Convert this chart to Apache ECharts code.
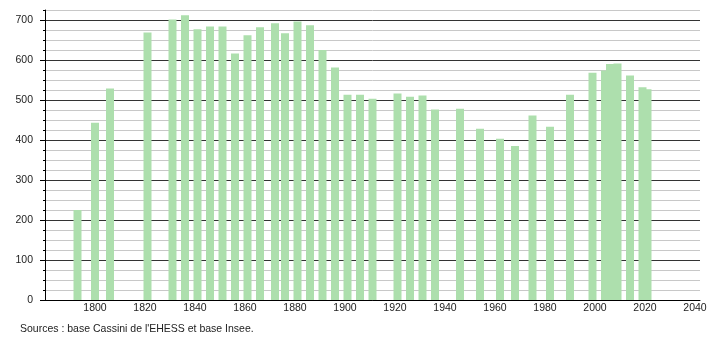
<!DOCTYPE html>
<html>
<head>
<meta charset="utf-8">
<script src="https://cdn.jsdelivr.net/npm/echarts@6/dist/echarts.min.js"></script>
<style>
html,body{margin:0;padding:0;background:#fff;}
#chart{width:710px;height:340px;}
</style>
</head>
<body>
<div id="chart"></div>
<script>
const years = [1793,1800,1806,1821,1831,1836,1841,1846,1851,1856,1861,1866,1872,1876,1881,1886,1891,1896,1901,1906,1911,1921,1926,1931,1936,1946,1954,1962,1968,1975,1982,1990,1999,2004,2006,2009,2014,2019,2021];
const population = [225,443,529,669,701,712,677,684,684,616,662,682,692,667,696,687,625,581,513,513,503,516,508,511,476,478,428,403,385,461,433,513,568,574,590,591,561,532,527];
const yTickLabels = [0,100,200,300,400,500,600,700];
const xTickLabels = [1800,1820,1840,1860,1880,1900,1920,1940,1960,1980,2000,2020,2040];
const sourceText = "Sources : base Cassini de l'EHESS et base Insee.";

const chart = echarts.init(document.getElementById('chart'), null, {renderer: 'canvas'});
const font = 'Liberation Sans, Arial, sans-serif';
chart.setOption({
  animation: false,
  backgroundColor: '#fff',
  grid: {left: 45, right: 10, top: 10, bottom: 40, containLabel: false},
  xAxis: {
    type: 'value', min: 1780, max: 2042, interval: 20,
    axisLine: {show: true, lineStyle: {color: '#000', width: 1}},
    axisTick: {show: false},
    splitLine: {show: false},
    axisLabel: {
      showMinLabel: false, showMaxLabel: false, margin: 3,
      color: '#222', fontSize: 10.5, fontFamily: font,
      formatter: v => xTickLabels.includes(v) ? String(v) : ''
    }
  },
  yAxis: [{
    type: 'value', min: 0, max: 725, interval: 25,
    axisLine: {show: true, lineStyle: {color: '#000', width: 1}},
    axisTick: {show: true, length: 2, lineStyle: {color: '#000'}},
    splitLine: {show: true, lineStyle: {color: ['#333','#c8c8c8','#c8c8c8','#c8c8c8'], width: 1}},
    axisLabel: {
      margin: 12, color: '#222', fontSize: 10.5, fontFamily: font,
      formatter: v => yTickLabels.includes(v) ? String(v) : ''
    }
  }, {
    type: 'value', min: 0, max: 725, position: 'left',
    axisLine: {show: false},
    axisTick: {show: true, length: 5, customValues: yTickLabels, lineStyle: {color: '#000'}},
    axisLabel: {show: false},
    splitLine: {show: false}
  }],
  series: [{
    type: 'bar',
    barWidth: 8,
    itemStyle: {color: '#addfad'},
    data: years.map((y, i) => [y, population[i]])
  }],
  graphic: [{
    type: 'text', left: 20, top: 324,
    style: {text: sourceText, fill: '#222', fontSize: 10.5, fontFamily: font}
  }]
});
</script>
</body>
</html>
